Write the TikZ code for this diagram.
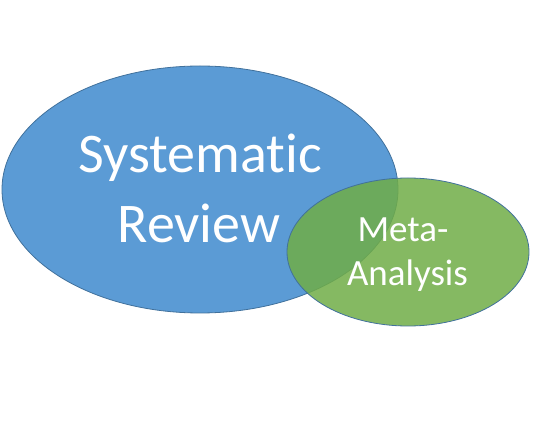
\documentclass[tikz,border=0pt]{standalone}
\usepackage{fontspec}
\setmainfont[Ligatures=NoCommon]{Carlito}
\usetikzlibrary{shapes.geometric}
\definecolor{reviewblue}{RGB}{91,155,213}
\definecolor{reviewedge}{RGB}{65,113,156}
\definecolor{metagreen}{RGB}{112,173,71}
\tikzset{
  blob/.style={ellipse, draw=reviewedge, line width=0.8pt, inner sep=0pt},
  bigtext/.style={anchor=base, text=white, inner sep=0pt, font=\fontsize{56}{67}\selectfont},
  smalltext/.style={anchor=base, text=white, inner sep=0pt, font=\fontsize{37}{44}\selectfont}
}
\begin{document}
\begin{tikzpicture}[x=1pt, y=-1pt]
\useasboundingbox (0,0) rectangle (536,435);
\node[blob, fill=reviewblue, minimum width=396pt, minimum height=247pt] (sr) at (200,189.5) {};
\node[blob, fill=metagreen, fill opacity=0.85, minimum width=242pt, minimum height=148pt] (ma) at (408,252) {};
\node[bigtext] (srtop) at (200,173) {Systematic};
\node[bigtext] (srbot) at (199,243) {Review};
\node[smalltext] (matop) at (403,242) {Meta-};
\node[smalltext] (mabot) at (407.5,286) {Analysis};
\end{tikzpicture}
\end{document}
